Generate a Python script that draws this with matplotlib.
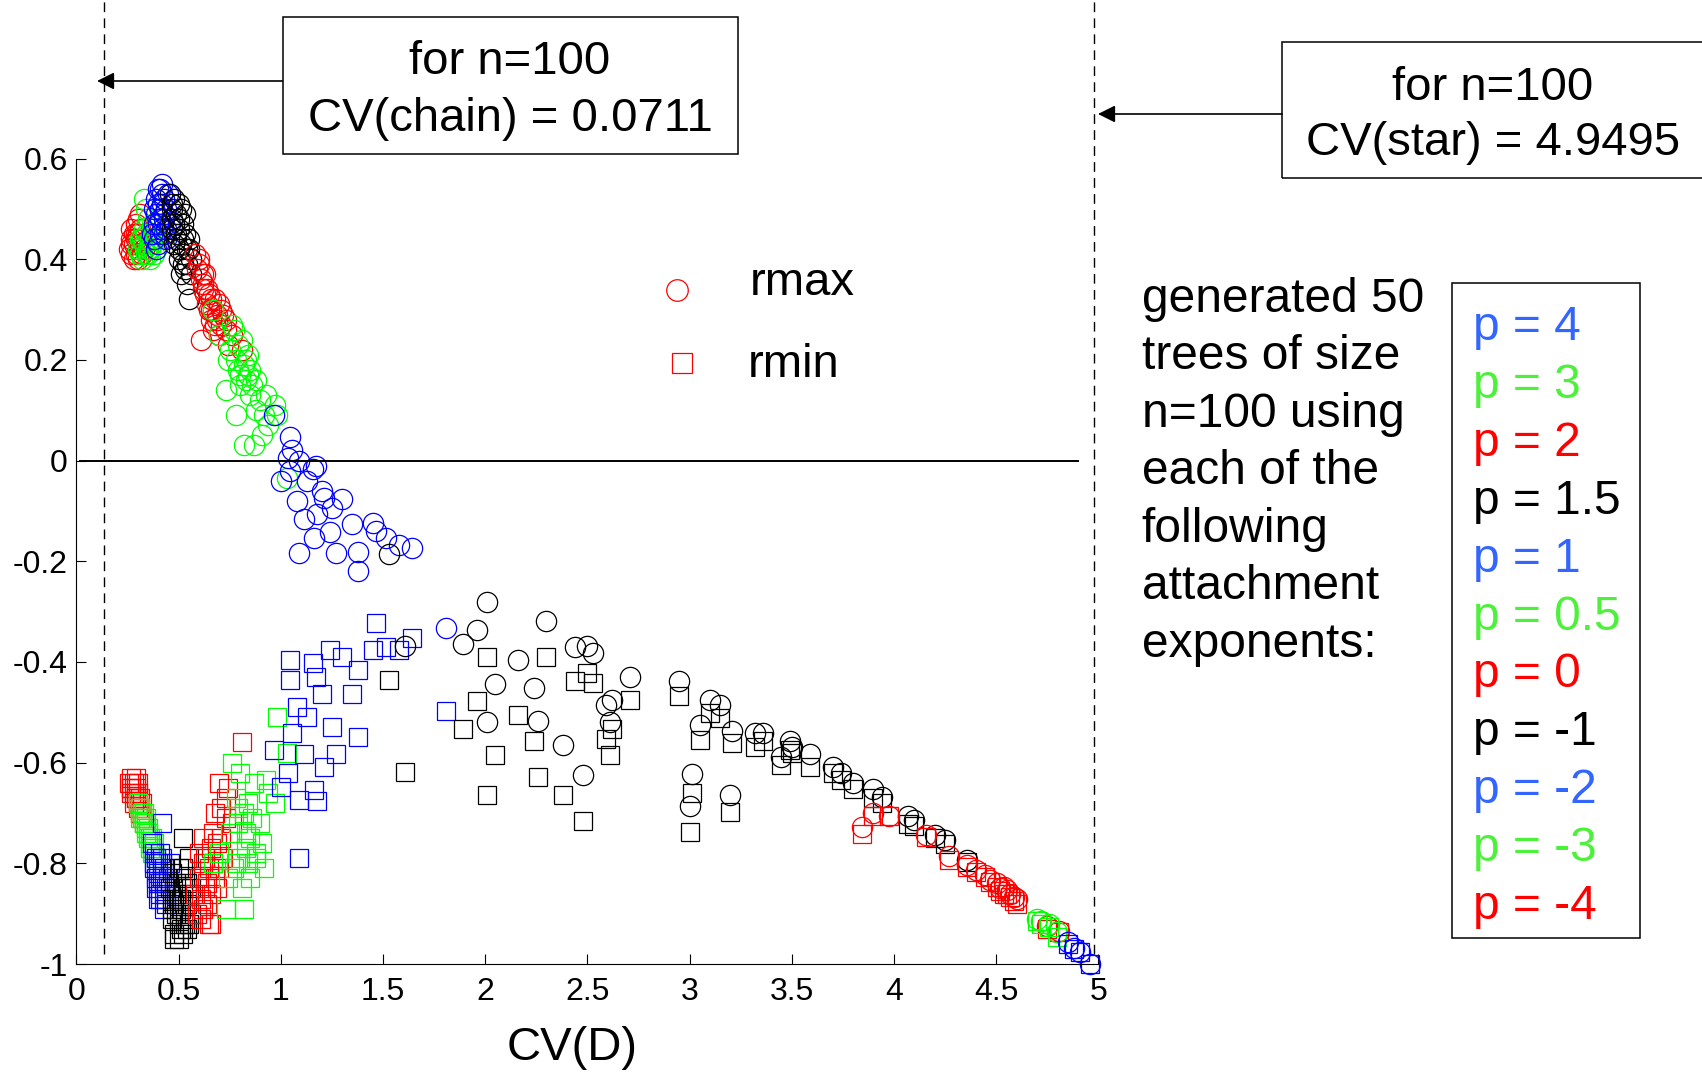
import matplotlib
matplotlib.use('Agg')
import matplotlib.pyplot as plt
from matplotlib.patches import Rectangle
from matplotlib.lines import Line2D

plt.rcParams['font.family'] = ['Liberation Sans', 'DejaVu Sans']
plt.rcParams['axes.unicode_minus'] = False

# ---------------- data (CV(D), rmax, rmin) per attachment exponent p ----------------
# p = -4 (red)
cv_m4 = [0.26, 0.27, 0.27, 0.28, 0.28, 0.29, 0.29, 0.29, 0.30, 0.30, 0.30, 0.31, 0.31, 0.32, 0.32, 0.33, 0.28, 0.27, 0.30, 0.31, 0.27, 0.29, 0.31]
rmax_m4 = [0.42, 0.41, 0.44, 0.43, 0.45, 0.41, 0.44, 0.47, 0.42, 0.45, 0.48, 0.43, 0.46, 0.41, 0.44, 0.42, 0.40, 0.46, 0.40, 0.49, 0.43, 0.45, 0.44]
rmin_m4 = [-0.64, -0.63, -0.65, -0.64, -0.66, -0.65, -0.67, -0.63, -0.66, -0.68, -0.69, -0.67, -0.70, -0.68, -0.71, -0.72, -0.68, -0.66, -0.64, -0.69, -0.65, -0.67, -0.70]
# p = -3 (green)
cv_m3 = [0.30, 0.31, 0.32, 0.32, 0.33, 0.33, 0.34, 0.34, 0.35, 0.35, 0.36, 0.36, 0.37, 0.37, 0.38, 0.38, 0.39, 0.34, 0.33, 0.36, 0.31, 0.35, 0.37]
rmax_m3 = [0.42, 0.41, 0.44, 0.40, 0.43, 0.46, 0.41, 0.45, 0.42, 0.48, 0.40, 0.44, 0.43, 0.47, 0.41, 0.45, 0.44, 0.50, 0.52, 0.42, 0.44, 0.41, 0.46]
rmin_m3 = [-0.68, -0.69, -0.70, -0.71, -0.70, -0.72, -0.71, -0.73, -0.73, -0.74, -0.75, -0.76, -0.75, -0.77, -0.76, -0.78, -0.79, -0.74, -0.72, -0.77, -0.71, -0.75, -0.78]
# p = -2 (blue)
cv_m2 = [0.37, 0.38, 0.38, 0.39, 0.39, 0.40, 0.40, 0.41, 0.41, 0.42, 0.42, 0.43, 0.43, 0.44, 0.44, 0.45, 0.40, 0.41, 0.43, 0.46, 0.39, 0.42, 0.38, 0.40, 0.42, 0.44, 0.41, 0.43]
rmax_m2 = [0.45, 0.47, 0.44, 0.49, 0.52, 0.43, 0.47, 0.50, 0.54, 0.46, 0.55, 0.48, 0.52, 0.44, 0.50, 0.53, 0.51, 0.45, 0.49, 0.47, 0.42, 0.53, 0.50, 0.54, 0.51, 0.46, 0.48, 0.45]
rmin_m2 = [-0.76, -0.78, -0.81, -0.79, -0.85, -0.80, -0.82, -0.84, -0.87, -0.72, -0.83, -0.86, -0.81, -0.85, -0.88, -0.83, -0.87, -0.78, -0.89, -0.80, -0.83, -0.79, -0.80, -0.84, -0.80, -0.87, -0.86, -0.84]
# p = -1 (black)
cv_m1 = [0.46, 0.47, 0.47, 0.48, 0.48, 0.49, 0.49, 0.50, 0.50, 0.50, 0.51, 0.51, 0.52, 0.52, 0.53, 0.53, 0.54, 0.54, 0.55, 0.55, 0.56, 0.48, 0.51, 0.53,
         0.47, 0.49, 0.50, 0.52, 0.54, 0.56, 0.47, 0.50, 0.52, 0.55]
rmax_m1 = [0.53, 0.50, 0.46, 0.52, 0.47, 0.49, 0.44, 0.51, 0.46, 0.40, 0.50, 0.43, 0.47, 0.41, 0.45, 0.38, 0.42, 0.35, 0.44, 0.32, 0.40, 0.43, 0.37, 0.49,
           0.48, 0.45, 0.48, 0.44, 0.39, 0.37, 0.51, 0.42, 0.39, 0.42]
rmin_m1 = [-0.85, -0.91, -0.82, -0.94, -0.88, -0.86, -0.90, -0.92, -0.81, -0.95, -0.89, -0.93, -0.75, -0.85, -0.91, -0.83, -0.88, -0.93, -0.86, -0.79, -0.90, -0.95, -0.87, -0.92,
           -0.87, -0.84, -0.90, -0.94, -0.84, -0.85, -0.89, -0.87, -0.81, -0.92]
# p = 0 (red)
cv_0 = [0.58, 0.59, 0.60, 0.61, 0.61, 0.62, 0.63, 0.64, 0.64, 0.65, 0.66, 0.66, 0.67, 0.68, 0.68, 0.69, 0.70, 0.70, 0.71, 0.72, 0.73, 0.74, 0.76, 0.81, 0.62, 0.67,
        0.60, 0.63, 0.65, 0.69, 0.71, 0.73, 0.66, 0.62]
rmax_0 = [0.41, 0.38, 0.40, 0.36, 0.24, 0.35, 0.33, 0.34, 0.31, 0.30, 0.32, 0.28, 0.30, 0.27, 0.32, 0.29, 0.31, 0.25, 0.27, 0.29, 0.26, 0.23, 0.25, 0.22, 0.37, 0.26,
          0.39, 0.37, 0.33, 0.28, 0.30, 0.28, 0.30, 0.34]
rmin_0 = [-0.86, -0.90, -0.83, -0.87, -0.91, -0.75, -0.79, -0.88, -0.84, -0.92, -0.77, -0.86, -0.80, -0.70, -0.83, -0.76, -0.64, -0.81, -0.69, -0.79, -0.67, -0.65, -0.72, -0.56, -0.89, -0.74,
          -0.78, -0.85, -0.81, -0.85, -0.75, -0.71, -0.92, -0.80]
# p = 0.5 (green)
cv_05 = [0.67, 0.70, 0.73, 0.74, 0.75, 0.76, 0.78, 0.78, 0.79, 0.80, 0.81, 0.82, 0.82, 0.83, 0.84, 0.85, 0.86, 0.87, 0.88, 0.90, 0.91, 0.93, 0.94, 0.97, 0.98, 1.03,
         0.77, 0.80, 0.83, 0.85, 0.88, 0.92, 0.84, 0.79]
rmax_05 = [0.30, 0.25, 0.14, 0.20, 0.22, 0.27, 0.20, 0.09, 0.18, 0.17, 0.24, 0.19, 0.03, 0.16, 0.21, 0.18, 0.15, 0.03, 0.10, 0.12, 0.05, 0.13, 0.07, 0.11, 0.09, -0.035,
           0.26, 0.15, 0.20, 0.13, 0.16, 0.09, 0.17, 0.23]
rmin_05 = [-0.80, -0.78, -0.89, -0.83, -0.74, -0.60, -0.67, -0.80, -0.72, -0.62, -0.85, -0.70, -0.89, -0.77, -0.80, -0.75, -0.71, -0.64, -0.78, -0.72, -0.76, -0.635, -0.66, -0.68, -0.51, -0.58,
           -0.81, -0.79, -0.74, -0.83, -0.79, -0.81, -0.68, -0.69]
# p = 1 (blue)
cv_1 = [0.965, 1.00, 1.035, 1.045, 1.045, 1.055, 1.08, 1.09, 1.09, 1.115, 1.13, 1.16, 1.165, 1.175, 1.18, 1.20, 1.21, 1.24, 1.25, 1.27, 1.30, 1.35, 1.38, 1.38, 1.45, 1.465, 1.515, 1.58, 1.64, 1.81]
rmax_1 = [0.09, -0.04, 0.006, 0.046, -0.02, 0.02, -0.08, -0.184, 0.0, -0.117, -0.04, -0.016, -0.154, -0.01, -0.107, -0.06, -0.074, -0.141, -0.094, -0.184, -0.077, -0.127, -0.181, -0.22, -0.124, -0.14, -0.154, -0.167, -0.174, -0.332]
rmin_1 = [-0.575, -0.648, -0.621, -0.396, -0.436, -0.542, -0.489, -0.674, -0.79, -0.582, -0.509, -0.403, -0.654, -0.43, -0.677, -0.463, -0.608, -0.376, -0.529, -0.582, -0.39, -0.463, -0.416, -0.549, -0.376, -0.323, -0.37, -0.376, -0.353, -0.498]
# p = 1.5 (black)
cv_15 = [1.53, 1.61, 1.89, 1.96, 2.01, 2.01, 2.05, 2.16, 2.24, 2.26, 2.30, 2.38, 2.44, 2.48, 2.50, 2.53, 2.59, 2.62, 2.61, 2.71, 2.95, 3.01, 3.00, 3.05, 3.10, 3.15, 3.20, 3.21, 3.32, 3.36, 3.45, 3.49, 3.50, 3.59, 3.70, 3.74, 3.80, 3.90, 3.94, 4.07, 4.10, 4.20, 4.25, 4.36]
rmax_15 = [-0.185, -0.369, -0.365, -0.336, -0.280, -0.519, -0.443, -0.396, -0.452, -0.518, -0.318, -0.564, -0.371, -0.625, -0.369, -0.383, -0.485, -0.475, -0.52, -0.43, -0.438, -0.622, -0.687, -0.525, -0.475, -0.485, -0.664, -0.538, -0.541, -0.541, -0.588, -0.558, -0.569, -0.582, -0.608, -0.62, -0.641, -0.653, -0.668, -0.707, -0.714, -0.744, -0.754, -0.794]
rmin_15 = [-0.435, -0.618, -0.534, -0.478, -0.39, -0.665, -0.585, -0.506, -0.557, -0.628, -0.39, -0.665, -0.437, -0.715, -0.422, -0.441, -0.553, -0.534, -0.585, -0.475, -0.468, -0.661, -0.737, -0.555, -0.501, -0.511, -0.699, -0.561, -0.568, -0.558, -0.604, -0.574, -0.58, -0.608, -0.621, -0.634, -0.653, -0.671, -0.681, -0.721, -0.726, -0.749, -0.761, -0.797]
# p = 2 (red)
cv_2 = [3.845, 3.897, 3.975, 4.157, 4.27, 4.36, 4.40, 4.445, 4.47, 4.506, 4.52, 4.54, 4.555, 4.57, 4.59, 4.604, 4.75, 4.81]
rmax_2 = [-0.727, -0.701, -0.707, -0.744, -0.786, -0.804, -0.814, -0.824, -0.834, -0.84, -0.85, -0.847, -0.853, -0.86, -0.866, -0.87, -0.925, -0.935]
rmin_2 = [-0.741, -0.707, -0.707, -0.747, -0.794, -0.807, -0.817, -0.827, -0.837, -0.847, -0.855, -0.86, -0.86, -0.867, -0.874, -0.88, -0.93, -0.937]
# p = 3 (green)
cv_3 = [4.70, 4.72, 4.76, 4.80]
rmax_3 = [-0.91, -0.915, -0.92, -0.937]
rmin_3 = [-0.914, -0.92, -0.927, -0.947]
# p = 4 (blue)
cv_4 = [4.85, 4.88, 4.91, 4.96]
rmax_4 = [-0.957, -0.968, -0.977, -1.0]
rmin_4 = [-0.96, -0.97, -0.977, -1.0]

p_labels = ['p = 4', 'p = 3', 'p = 2', 'p = 1.5', 'p = 1', 'p = 0.5', 'p = 0', 'p = -1', 'p = -2', 'p = -3', 'p = -4']
x_ticks = [0, 0.5, 1, 1.5, 2, 2.5, 3, 3.5, 4, 4.5, 5]
x_tick_labels = ['0', '0.5', '1', '1.5', '2', '2.5', '3', '3.5', '4', '4.5', '5']
y_ticks = [-1, -0.8, -0.6, -0.4, -0.2, 0, 0.2, 0.4, 0.6]
y_tick_labels = ['-1', '-0.8', '-0.6', '-0.4', '-0.2', '0', '0.2', '0.4', '0.6']
info_lines = ['generated 50', 'trees of size', 'n=100 using', 'each of the', 'following',
              'attachment', 'exponents:']

# ---------------- styles ----------------
BLUE, GREEN, RED, BLACK = (0, 0, 1), (0, 1, 0), (1, 0, 0), (0, 0, 0)
TXT_COL = {'b': '#3366FF', 'g': '#4DF03A', 'r': '#FF0000', 'k': '#000000'}
label_cols = ['b', 'g', 'r', 'k', 'b', 'g', 'r', 'k', 'b', 'g', 'r']

groups = [  # plotted from p=-4 up to p=4
    (cv_m4, rmax_m4, rmin_m4, RED),
    (cv_m3, rmax_m3, rmin_m3, GREEN),
    (cv_m2, rmax_m2, rmin_m2, BLUE),
    (cv_m1, rmax_m1, rmin_m1, BLACK),
    (cv_0, rmax_0, rmin_0, RED),
    (cv_05, rmax_05, rmin_05, GREEN),
    (cv_1, rmax_1, rmin_1, BLUE),
    (cv_15, rmax_15, rmin_15, BLACK),
    (cv_2, rmax_2, rmin_2, RED),
    (cv_3, rmax_3, rmin_3, GREEN),
    (cv_4, rmax_4, rmin_4, BLUE),
]

W, H = 1702, 1075
fig = plt.figure(figsize=(W / 100, H / 100), dpi=100)


def fx(px):
    return px / W


def fy(py):
    return 1 - py / H


AX_L, AX_R, AX_T, AX_B = 76.3, 1098.3, 158.5, 964.0
ax = fig.add_axes([fx(AX_L), fy(AX_B), (AX_R - AX_L) / W, (AX_B - AX_T) / H])

CIRC_MS, SQ_MS, MEW = 14.6, 13.6, 0.9
for cv, rmax, rmin, col in groups:
    ax.plot(cv, rmin, ls='none', marker='s', ms=SQ_MS, mfc='none', mec=col, mew=MEW, clip_on=False)
    ax.plot(cv, rmax, ls='none', marker='o', ms=CIRC_MS, mfc='none', mec=col, mew=MEW, clip_on=False)

ax.set_xlim(0, 5)
ax.set_ylim(-1, 0.6)
ax.set_xticks(x_ticks)
ax.set_xticklabels(x_tick_labels)
ax.set_yticks(y_ticks)
ax.set_yticklabels(y_tick_labels)
ax.tick_params(direction='in', length=7, width=0.8, labelsize=23)
ax.tick_params(axis='x', pad=9.5)
ax.tick_params(axis='y', pad=6)
for s in ['top', 'right']:
    ax.spines[s].set_visible(False)
for s in ['left', 'bottom']:
    ax.spines[s].set_linewidth(0.8)

ax.set_xlabel('CV(D)', fontsize=34)
ax.xaxis.label.set_va('center')
ax.xaxis.set_label_coords((572 - AX_L) / (AX_R - AX_L), (AX_B - 1048) / (AX_B - AX_T))

# zero reference line
ax.plot([0.02, 4.9], [0, 0], color='k', lw=1.4, clip_on=False)

# dashed lines for chain and star
CHAIN_X, STAR_X = 0.135, 4.98
top_frac = 1 + AX_T / (AX_B - AX_T)
for xv in (CHAIN_X, STAR_X):
    ax.axvline(xv, ymin=0.0125, ymax=top_frac, color='k', lw=1.0,
               ls=(0, (7, 4.5)), clip_on=False)

# annotation boxes
fig.add_artist(Rectangle((fx(282.5), fy(154)), (738 - 282.5) / W, (154 - 16.5) / H,
                         transform=fig.transFigure, fill=False, ec='k', lw=1.1))
fig.add_artist(Rectangle((fx(1282), fy(178)), (1720 - 1282) / W, (178 - 41.7) / H,
                         transform=fig.transFigure, fill=False, ec='k', lw=1.1, clip_on=False))
fig.text(fx(510), fy(74), 'for n=100', ha='center', va='baseline', fontsize=34)
fig.text(fx(510), fy(131), 'CV(chain) = 0.0711', ha='center', va='baseline', fontsize=34)
fig.text(fx(1493), fy(100), 'for n=100', ha='center', va='baseline', fontsize=34)
fig.text(fx(1493), fy(155), 'CV(star) = 4.9495', ha='center', va='baseline', fontsize=34)

arrow_kw = dict(arrowstyle='-|>', color='k', lw=1.2, shrinkA=0, shrinkB=0, mutation_scale=26)
ax.annotate('', xy=(97, H - 81), xycoords='figure pixels',
            xytext=(282.5, H - 81), textcoords='figure pixels', arrowprops=arrow_kw)
ax.annotate('', xy=(1098, H - 114), xycoords='figure pixels',
            xytext=(1282, H - 114), textcoords='figure pixels', arrowprops=arrow_kw)

# marker legend
fig.add_artist(Line2D([fx(676.7)], [fy(290)], marker='o', ms=15.5, mfc='none', mec=RED,
                      mew=MEW, ls='none', transform=fig.transFigure))
fig.add_artist(Line2D([fx(681.7)], [fy(363.3)], marker='s', ms=13.9, mfc='none', mec=RED,
                      mew=MEW, ls='none', transform=fig.transFigure))
fig.text(fx(750), fy(295), 'rmax', ha='left', va='baseline', fontsize=34)
fig.text(fx(748), fy(376.7), 'rmin', ha='left', va='baseline', fontsize=34)

# explanatory text
for i, line in enumerate(info_lines):
    fig.text(fx(1141.5), fy(311.7 + 57.5 * i), line, ha='left', va='baseline', fontsize=34.5)

# p legend box
fig.add_artist(Rectangle((fx(1452), fy(938)), (1640 - 1452) / W, (938 - 283.3) / H,
                         transform=fig.transFigure, fill=False, ec='k', lw=1.1))
for i, (lab, c) in enumerate(zip(p_labels, label_cols)):
    fig.text(fx(1473.3), fy(340 + 57.9 * i), lab, ha='left', va='baseline',
             fontsize=34.5, color=TXT_COL[c])

fig.savefig('out.png', dpi=100)
